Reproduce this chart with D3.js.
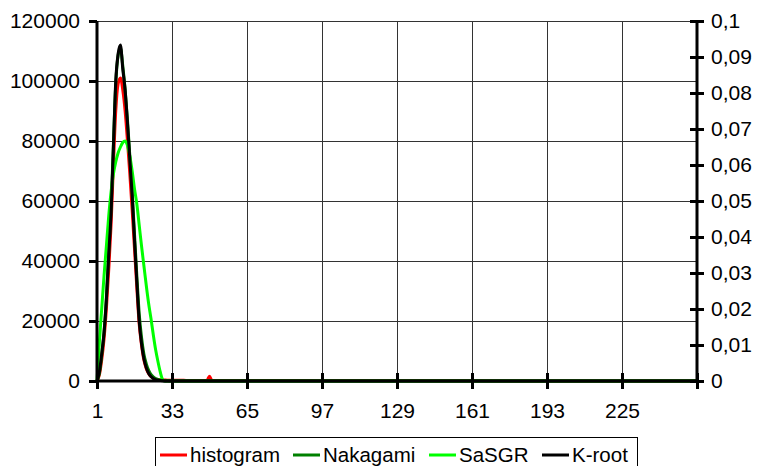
<!DOCTYPE html>
<html>
<head>
<meta charset="utf-8">
<script src="https://cdn.jsdelivr.net/npm/d3@7"></script>
<style>
  body { margin: 0; background: #fff; }
  text { font-family: "Liberation Sans", Arial, sans-serif; fill: #000; }
</style>
</head>
<body>
<div id="chart"></div>
<script>
// bins along the x axis (sparse: the tail after 50 is flat zero up to 257)
var bins = [1, 2, 3, 4, 5, 6, 7, 8, 9, 10,
    11, 12, 13, 14, 15, 16, 17, 18, 19, 20,
    21, 22, 23, 24, 25, 26, 27, 28, 29, 30,
    31, 32, 33, 34, 35, 36, 37, 38, 39, 40,
    41, 42, 43, 44, 45, 46, 47, 48, 49, 50, 257];

var histogram = [0, 2000, 7000, 14000, 24000, 37000, 52000, 72000, 90000, 99000,
    101000, 97000, 90000, 80000, 69000, 57000, 44000, 31000, 19000, 12000,
    7000, 4200, 2500, 1500, 900, 600, 450, 380, 330, 300,
    280, 260, 250, 240, 230, 220, 215, 210, 205, 200,
    200, 195, 190, 190, 185, 180, 180, 300, 1600, 150, 0];

var nakagami = [0, 2500, 8500, 16500, 28000, 43000, 58000, 79000, 99000, 108500,
    111000, 105000, 97000, 87000, 75000, 63000, 49000, 35000, 22500, 14500,
    9000, 5800, 3600, 2200, 1350, 800, 500, 320, 200, 120,
    70, 40, 20, 10, 0, 0, 0, 0, 0, 0,
    0, 0, 0, 0, 0, 0, 0, 0, 0, 0, 0];

var sasgr = [0, 13000, 24000, 35000, 45000, 55000, 63000, 69000, 73000, 76000,
    78000, 79500, 80000, 78500, 75000, 70000, 64000, 59000, 52000, 45000,
    38500, 32000, 26000, 21000, 15500, 10500, 6500, 3000, 500, 0,
    0, 0, 0, 0, 0, 0, 0, 0, 0, 0,
    0, 0, 0, 0, 0, 0, 0, 0, 0, 0, 0];

var kroot = [0, 3000, 9000, 16000, 27000, 42000, 56000, 78000, 100000, 109000,
    112000, 104000, 97000, 86000, 74000, 62000, 47000, 33000, 20000, 12500,
    7500, 4500, 2600, 1500, 850, 450, 250, 130, 70, 35,
    15, 8, 0, 0, 0, 0, 0, 0, 0, 0,
    0, 0, 0, 0, 0, 0, 0, 0, 0, 0, 0];

var xTicks = [1, 33, 65, 97, 129, 161, 193, 225, 257];
var xLabels = ["1", "33", "65", "97", "129", "161", "193", "225", ""];
var leftTicks = [0, 20000, 40000, 60000, 80000, 100000, 120000];
var rightTicks = [0, 0.01, 0.02, 0.03, 0.04, 0.05, 0.06, 0.07, 0.08, 0.09, 0.1];

var seriesNames = ["histogram", "Nakagami", "SaSGR", "K-root"];
var seriesColors = ["#ff0000", "#008000", "#00ff00", "#000000"];
var seriesValues = [histogram, nakagami, sasgr, kroot];

var margin = {top: 21, right: 60, bottom: 85, left: 97},
    width = 757 - margin.left - margin.right,
    height = 466 - margin.top - margin.bottom;

var svg = d3.select("#chart")
    .append("svg")
    .attr("width", 757)
    .attr("height", 466);

var g = svg.append("g")
    .attr("transform", "translate(" + margin.left + "," + margin.top + ")");

var x = d3.scaleLinear().domain([1, 257]).range([0, width]);
var y = d3.scaleLinear().domain([0, 120000]).range([height, 0]);
var y2 = d3.scaleLinear().domain([0, 0.1]).range([height, 0]);

// gridlines
g.append("g")
    .selectAll("line")
    .data(leftTicks.slice(1))
    .enter()
    .append("line")
    .attr("x1", 0).attr("x2", width)
    .attr("y1", function (d) { return y(d); })
    .attr("y2", function (d) { return y(d); })
    .attr("stroke", "#333")
    .attr("stroke-width", 1)
    .attr("shape-rendering", "crispEdges");

g.append("g")
    .selectAll("line")
    .data(xTicks.slice(1, -1))
    .enter()
    .append("line")
    .attr("x1", function (d) { return x(d); })
    .attr("x2", function (d) { return x(d); })
    .attr("y1", 0).attr("y2", height)
    .attr("stroke", "#333")
    .attr("stroke-width", 1)
    .attr("shape-rendering", "crispEdges");

// lines
var line = d3.line()
    .x(function (d) { return x(d[0]); })
    .y(function (d) { return y(d[1]); })
    .curve(d3.curveMonotoneX);

seriesValues.forEach(function (vals, i) {
    g.append("path")
        .datum(bins.map(function (b, j) { return [b, vals[j]]; }))
        .attr("fill", "none")
        .attr("stroke", seriesColors[i])
        .attr("stroke-width", 3)
        .attr("stroke-linejoin", "round")
        .attr("d", line);
});

// left axis
var leftAxis = g.append("g")
    .call(d3.axisLeft(y).tickValues(leftTicks).tickSize(8).tickPadding(9)
        .tickFormat(d3.format("d")));
leftAxis.select(".domain").attr("stroke-width", 3).attr("d", "M0,0V" + height);
leftAxis.selectAll(".tick line").attr("stroke-width", 3);
leftAxis.selectAll("text").style("font-size", "21px");

// right axis (ticks cross the line)
var rightAxis = g.append("g")
    .attr("transform", "translate(" + width + ",0)")
    .call(d3.axisRight(y2).tickValues(rightTicks).tickSize(7).tickPadding(7)
        .tickFormat(function (d) { return d === 0 ? "0" : String(+d.toFixed(2)).replace(".", ","); }));
rightAxis.select(".domain").attr("stroke-width", 3).attr("d", "M0,0V" + height);
rightAxis.selectAll(".tick line").attr("x1", -7).attr("stroke-width", 3);
rightAxis.selectAll("text").style("font-size", "21px");

// bottom axis (ticks cross the line)
var bottomAxis = g.append("g")
    .attr("transform", "translate(0," + height + ")")
    .call(d3.axisBottom(x).tickValues(xTicks).tickSize(8).tickPadding(14)
        .tickFormat(function (d, i) { return xLabels[i]; }));
bottomAxis.select(".domain").attr("stroke-width", 3).attr("d", "M0,0H" + width);
bottomAxis.selectAll(".tick line").attr("y1", -8).attr("stroke-width", 3);
bottomAxis.selectAll("text").style("font-size", "21px");

// legend
var legend = svg.append("g");
legend.append("rect")
    .attr("x", 155.5).attr("y", 437.5)
    .attr("width", 482).attr("height", 40)
    .attr("fill", "#fff")
    .attr("stroke", "#000")
    .attr("stroke-width", 1);

var legendX = [160, 293, 429, 542];
seriesNames.forEach(function (name, i) {
    legend.append("line")
        .attr("x1", legendX[i]).attr("x2", legendX[i] + 27)
        .attr("y1", 455).attr("y2", 455)
        .attr("stroke", seriesColors[i])
        .attr("stroke-width", 3);
    legend.append("text")
        .attr("x", legendX[i] + 30)
        .attr("y", 455)
        .attr("dy", "0.35em")
        .style("font-size", "20.5px")
        .text(name);
});
</script>
</body>
</html>
